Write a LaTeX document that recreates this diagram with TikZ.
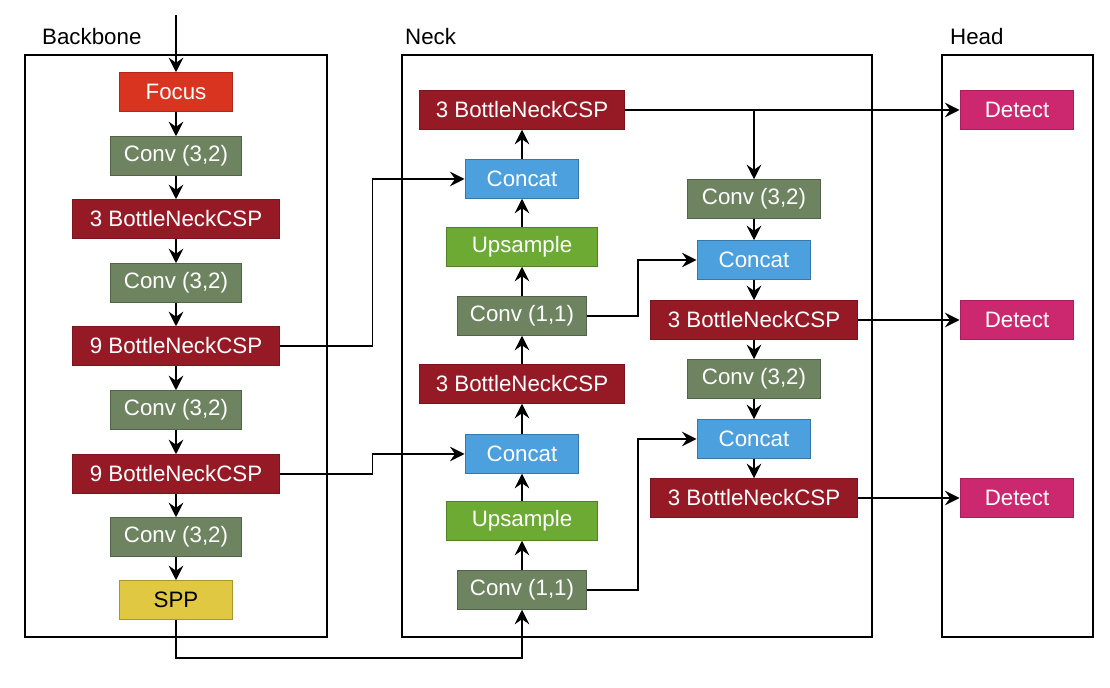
\documentclass[tikz,border=0pt]{standalone}
\usepackage{fontspec}
\setmainfont{Liberation Sans}
\usetikzlibrary{arrows.meta}
\usetikzlibrary{positioning}
\definecolor{focusred}{RGB}{216,52,32}
\definecolor{convgreen}{RGB}{110,132,97}
\definecolor{cspred}{RGB}{150,26,38}
\definecolor{catblue}{RGB}{76,160,221}
\definecolor{upgreen}{RGB}{108,170,52}
\definecolor{sppyellow}{RGB}{224,200,66}
\definecolor{detpink}{RGB}{204,40,112}
\tikzset{
  blk/.style={rectangle,inner sep=0pt,minimum height=0.77cm,line width=0.02cm,text=white,font=\fontsize{12.7}{15}\selectfont},
  focusblk/.style={blk,fill=focusred,draw=focusred!80!black,minimum width=2.26cm},
  convblk/.style={blk,fill=convgreen,draw=convgreen!75!black,minimum width=2.62cm},
  cspblk/.style={blk,fill=cspred,draw=cspred!80!black,minimum width=4.16cm},
  catblk/.style={blk,fill=catblue,draw=catblue!75!black,minimum width=2.28cm},
  upblk/.style={blk,fill=upgreen,draw=upgreen!75!black,minimum width=3.02cm},
  sppblk/.style={blk,fill=sppyellow,draw=sppyellow!75!black,minimum width=2.26cm,text=black},
  detblk/.style={blk,fill=detpink,draw=detpink!80!black,minimum width=2.28cm},
  frame/.style={draw=black,line width=0.04cm},
  lbl/.style={anchor=west,font=\fontsize{12.7}{15}\selectfont},
  arr/.style={-{Stealth[length=0.29cm,width=0.29cm,inset=0.1cm]},line width=0.038cm}
}
\begin{document}
\begin{tikzpicture}[x=0.02cm,y=-0.02cm]
\useasboundingbox (0,0) rectangle (1110,688);
\draw[frame] (25,55) rectangle (327,637);
\draw[frame] (402,55) rectangle (872,637);
\draw[frame] (942,55) rectangle (1093,637);
\node[lbl] (lbb) at (36,37) {Backbone};
\node[lbl] (lnk) at (399,37) {Neck};
\node[lbl] (lhd) at (944,37) {Head};

\node[focusblk] (focus) at (176,92) {Focus};
\node[convblk] (c1) at (176,156) {Conv (3,2)};
\node[cspblk] (b1) at (176,219) {3 BottleNeckCSP};
\node[convblk] (c2) at (176,283) {Conv (3,2)};
\node[cspblk] (b2) at (176,346) {9 BottleNeckCSP};
\node[convblk] (c3) at (176,410) {Conv (3,2)};
\node[cspblk] (b3) at (176,474) {9 BottleNeckCSP};
\node[convblk] (c4) at (176,537) {Conv (3,2)};
\node[sppblk] (spp) at (176,600) {SPP};

\node[cspblk,minimum width=4.1cm] (nb1) at (522,110) {3 BottleNeckCSP};
\node[catblk] (nc1) at (522,179) {Concat};
\node[upblk] (nu1) at (522,247) {Upsample};
\node[convblk,minimum width=2.58cm] (nv1) at (522,316) {Conv (1,1)};
\node[cspblk,minimum width=4.1cm] (nb2) at (522,384) {3 BottleNeckCSP};
\node[catblk] (nc2) at (522,454) {Concat};
\node[upblk] (nu2) at (522,521) {Upsample};
\node[convblk,minimum width=2.58cm] (nv2) at (522,590) {Conv (1,1)};

\node[convblk,minimum width=2.68cm] (rv1) at (754,199) {Conv (3,2)};
\node[catblk] (rc1) at (754,260) {Concat};
\node[cspblk] (rb1) at (754,320) {3 BottleNeckCSP};
\node[convblk,minimum width=2.68cm] (rv2) at (754,379) {Conv (3,2)};
\node[catblk] (rc2) at (754,439) {Concat};
\node[cspblk] (rb2) at (754,498) {3 BottleNeckCSP};

\node[detblk] (d1) at (1017,110) {Detect};
\node[detblk] (d2) at (1017,320) {Detect};
\node[detblk] (d3) at (1017,498) {Detect};

\coordinate (in) at (176,15);
\draw[arr] (in) -- (focus.north);
\foreach \a/\b in {focus/c1,c1/b1,b1/c2,c2/b2,b2/c3,c3/b3,b3/c4,c4/spp}
  \draw[arr] (\a.south) -- (\b.north);
\foreach \a/\b in {nv2/nu2,nu2/nc2,nc2/nb2,nb2/nv1,nv1/nu1,nu1/nc1,nc1/nb1}
  \draw[arr] (\a.north) -- (\b.south);
\foreach \a/\b in {rv1/rc1,rc1/rb1,rb1/rv2,rv2/rc2,rc2/rb2}
  \draw[arr] (\a.south) -- (\b.north);

\draw[arr] (b2.east) -- ++(92,0) |- (nc1.west);
\draw[arr] (b3.east) -- ++(92,0) |- (nc2.west);
\draw[arr] (spp.south) -- ++(0,38) -| (nv2.south);
\draw[arr] (nv1.east) -- ++(51,0) |- (rc1.west);
\draw[arr] (nv2.east) -- ++(51,0) |- (rc2.west);

\draw[arr] (nb1.east) -- (d1.west);
\draw[arr] (nb1.east -| rv1.north) -- (rv1.north);
\draw[arr] (rb1.east) -- (d2.west);
\draw[arr] (rb2.east) -- (d3.west);
\end{tikzpicture}
\end{document}
